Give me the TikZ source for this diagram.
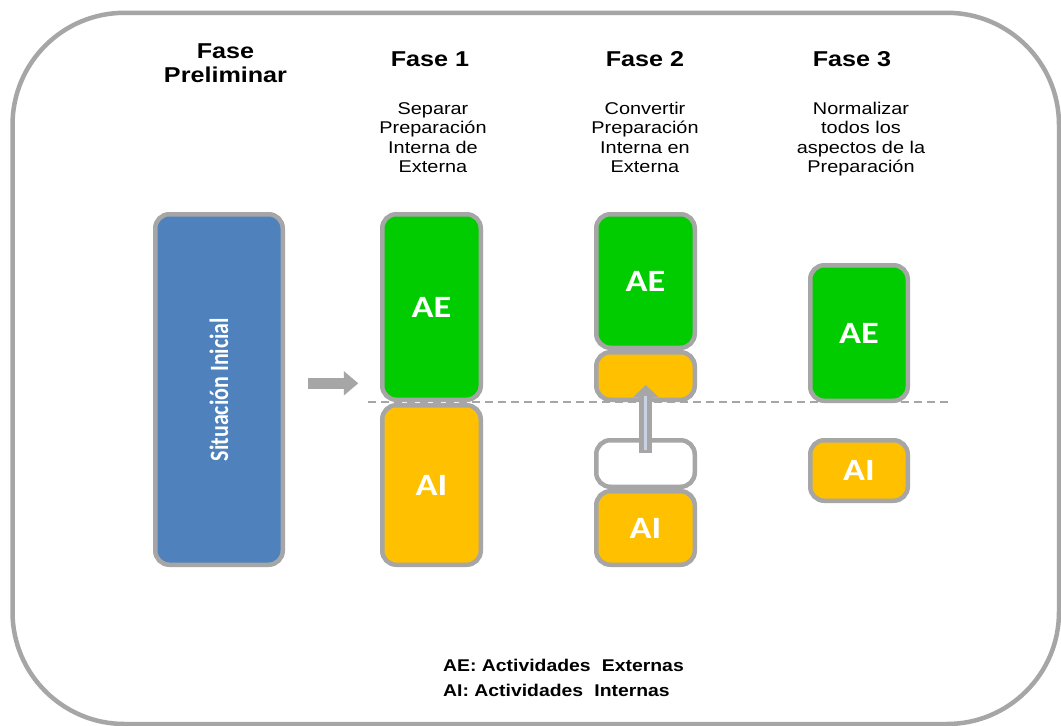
\documentclass[tikz,border=0pt]{standalone}
\usepackage{graphicx}
\usepackage{fontspec}
\setmainfont{Liberation Sans}
\newfontfamily\calib{Carlito}
\usetikzlibrary{arrows.meta,calc}

\definecolor{rim}{HTML}{A6A6A6}
\definecolor{startblue}{HTML}{4F81BD}
\definecolor{extgreen}{HTML}{00CC00}
\definecolor{intyellow}{HTML}{FFC000}
\definecolor{arrowcore}{HTML}{C9D2E2}

% horizontal widening used for all lettering
\newcommand{\wide}[1]{\scalebox{1.17}[1]{#1}}
\newcommand{\lines}[1]{\wide{\begin{tabular}[t]{@{}c@{}}#1\end{tabular}}}

\begin{document}
\begin{tikzpicture}[x=1pt,y=-1pt,
  box/.style={draw=rim, line width=4.5pt, rounded corners=14pt, inner sep=0pt,
    text=white, font=\calib\bfseries\fontsize{31}{36}\selectfont},
  aebox/.style={box, fill=extgreen},
  aibox/.style={box, fill=intyellow},
  phasehead/.style={anchor=base, inner sep=0pt, font=\bfseries\fontsize{21.5}{24}\selectfont},
  phasetext/.style={anchor=base, inner sep=0pt, font=\fontsize{17}{19.6}\selectfont},
  legend/.style={anchor=base west, inner sep=0pt, font=\bfseries\fontsize{17}{20}\selectfont}]

\clip (0,0) rectangle (1061,726);
\fill[white] (0,0) rectangle (1061,726);

% outer rounded frame
\draw[rim, line width=4.5pt, rounded corners=112pt] (12.5,12.8) rectangle (1059,724);

% dividing line between external and internal activities
\coordinate (dl) at (368,402);
\coordinate (dr) at (950,402);
\draw[rim, line width=1.5pt, dash pattern=on 8pt off 5pt] (dl) -- (dr);

% headings
\node[phasehead] (h0) at (225.5,58) {\lines{Fase\\Preliminar}};
\node[phasehead] (h1) at (430,66.7) {\wide{Fase 1}};
\node[phasehead] (h2) at (645,66.7) {\wide{Fase 2}};
\node[phasehead] (h3) at (852,66.7) {\wide{Fase 3}};

\node[phasetext] (t1) at (433,114) {\lines{Separar\\Preparación\\Interna de\\Externa}};
\node[phasetext] (t2) at (645,114) {\lines{Convertir\\Preparación\\Interna en\\Externa}};
\node[phasetext] (t3) at (861,114) {\lines{Normalizar\\todos los\\aspectos de la\\Preparación}};

% preliminary phase
\node[box, fill=startblue, minimum width=127.5pt, minimum height=350.5pt] (ini) at (219,389.5) {};
\node[rotate=90, text=white, inner sep=0pt, font=\calib\bfseries\fontsize{22}{26}\selectfont]
  (inilabel) at (ini.center) {\scalebox{1}[1.2]{Situación Inicial}};

% phase 1
\node[aebox, minimum width=98.5pt, minimum height=185.5pt] (ae1) at (431.5,307) {\wide{AE}};
\node[aibox, minimum width=98.5pt, minimum height=159.5pt] (ai1) at (431.5,485) {\wide{AI}};

% phase 2
\node[aebox, minimum width=98.5pt, minimum height=133.5pt] (ae2) at (645.5,281) {\wide{AE}};
\node[aibox, minimum width=98.5pt, minimum height=47.5pt] (mv2) at (645.5,376) {};
\node[box, fill=white, minimum width=98.5pt, minimum height=46.5pt] (gap2) at (645.5,463.5) {};
\node[aibox, minimum width=98.5pt, minimum height=73.5pt] (ai2) at (645.5,528) {\wide{AI}};

% phase 3
\node[aebox, minimum width=97.5pt, minimum height=135.5pt] (ae3) at (859,333) {\wide{AE}};
\node[aibox, minimum width=97.5pt, minimum height=60.5pt] (ai3) at (859,470.5) {\wide{AI}};

% arrow into phase 1
\coordinate (r1) at (308,383.3);
\coordinate (r2) at (358.3,383.3);
\draw[rim, line width=11pt, -{Triangle[width=23.5pt,length=14.5pt]}] (r1) -- (r2);

% upward move of internal work in phase 2: grey shaft with a light core, grey head
\coordinate (u1) at (645.8,453);
\coordinate (u2) at (645.8,397);
\fill[rim] ($(u1)+(-6.5,0)$) rectangle ($(u2)+(6.5,0)$);
\fill[rim] ($(u2)+(-12.5,0)$) -- ($(u2)+(0,-12)$) -- ($(u2)+(12.5,0)$) -- cycle;
\draw[arrowcore, line width=3pt] ($(u1)+(0,-3)$) -- ($(u2)+(0,-1)$);

% legend
\node[legend] (l1) at (443,671.7) {\scalebox{1.14}[1]{AE: Actividades\hspace{0.3em} Externas}};
\node[legend] (l2) at (443,696.7) {\scalebox{1.14}[1]{AI: Actividades\hspace{0.3em} Internas}};

\end{tikzpicture}
\end{document}
